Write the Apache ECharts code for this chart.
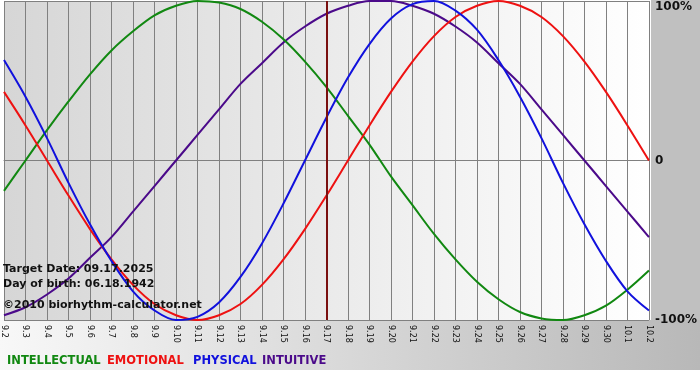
<!DOCTYPE html>
<html>
<head>
<meta charset="utf-8">
<script src="https://cdn.jsdelivr.net/npm/echarts@6/dist/echarts.min.js"></script>
<style>
html,body{margin:0;padding:0;background:#fff;}
#c{width:700px;height:380px;}
</style>
</head>
<body>
<div id="c"></div>
<script>
var categories = ['9.2','9.3','9.4','9.5','9.6','9.7','9.8','9.9','9.10','9.11','9.12','9.13','9.14','9.15','9.16','9.17','9.18','9.19','9.20','9.21','9.22','9.23','9.24','9.25','9.26','9.27','9.28','9.29','9.30','10.1','10.2'];
var intellectual = [-19,0,19,37,54,69,81,91,97,100,99,95,87,76,62,46,28,10,-10,-28,-46,-62,-76,-87,-95,-99,-100,-97,-91,-81,-69];
var emotional = [43,22,0,-22,-43,-62,-78,-90,-97,-100,-97,-90,-78,-62,-43,-22,0,22,43,62,78,90,97,100,97,90,78,62,43,22,0];
var physical = [63,40,14,-14,-40,-63,-82,-94,-100,-98,-89,-73,-52,-27,0,27,52,73,89,98,100,94,82,63,40,14,-14,-40,-63,-82,-94];
var intuitive = [-97,-92,-84,-74,-61,-48,-32,-16,0,16,32,48,61,74,84,92,97,100,100,97,92,84,74,61,48,32,16,0,-16,-32,-48];
var yTicks = [-100, 0, 100];
var targetDay = '9.17';
var infoLines = ['Target Date: 09.17.2025', 'Day of birth: 06.18.1942', '\u00a92010 biorhythm-calculator.net'];
var legendNames = ['INTELLECTUAL', 'EMOTIONAL', 'PHYSICAL', 'INTUITIVE'];
var colors = ['#118811', '#ee1111', '#1111dd', '#4b0a8a'];

var chart = echarts.init(document.getElementById('c'), null, {renderer: 'canvas'});
var FONT = 'DejaVu Sans';
var BOLD11 = 'bold 11px "' + FONT + '"';
function mk(name, data, color, extra) {
  var s = {
    name: name, type: 'line', data: data, smooth: 0.33, showSymbol: false,
    lineStyle: {color: color, width: 2}, itemStyle: {color: color}, z: 3,
    clip: true
  };
  if (extra) Object.assign(s, extra);
  return s;
}
var legendX = [7, 107, 193, 262];
var graphics = [
  {type: 'rect', z: -10, shape: {x: 0, y: 320, width: 700, height: 50},
   style: {fill: new echarts.graphic.LinearGradient(0, 0, 1, 0, [{offset: 0, color: '#f8f8f8'}, {offset: 1, color: '#b8b8b8'}])}, silent: true},
  {type: 'rect', z: -10, shape: {x: 651, y: 0, width: 49, height: 320},
   style: {fill: '#c0c0c0'}, silent: true},
  {type: 'text', left: 3, top: 264, z: 10, style: {text: infoLines[0], font: BOLD11, fill: '#111'}},
  {type: 'text', left: 3, top: 279, z: 10, style: {text: infoLines[1], font: BOLD11, fill: '#111'}},
  {type: 'text', left: 3, top: 300, z: 10, style: {text: infoLines[2], font: BOLD11, fill: '#111'}}
];
legendNames.forEach(function (n, i) {
  graphics.push({type: 'text', left: legendX[i], top: 355, z: 10,
    style: {text: n, font: 'bold 11.5px "' + FONT + '"', fill: colors[i]}});
});
var option = {
  animation: false,
  backgroundColor: '#ffffff',
  graphic: graphics,
  grid: {
    left: 1, right: 49, top: 1, bottom: 60, show: true, borderWidth: 0,
    backgroundColor: new echarts.graphic.LinearGradient(0, 0, 1, 0, [{offset: 0, color: '#d6d6d6'}, {offset: 1, color: '#ffffff'}])
  },
  xAxis: {
    type: 'category', data: categories, boundaryGap: false,
    axisLine: {show: true, lineStyle: {color: '#808080', width: 1}},
    axisTick: {show: true, length: 4, lineStyle: {color: '#808080'}, alignWithLabel: true},
    splitLine: {show: true, lineStyle: {color: '#808080', width: 1}},
    axisLabel: {interval: 0, rotate: -90, fontSize: 8, fontFamily: FONT, color: '#111', margin: 5}
  },
  yAxis: {
    type: 'value', position: 'right', min: -100, max: 100, interval: 100,
    axisLine: {show: false}, axisTick: {show: false},
    splitLine: {show: true, lineStyle: {color: '#808080', width: 1}},
    axisLabel: {
      fontSize: 12, fontWeight: 'bold', fontFamily: FONT, color: '#111', margin: 6,
      verticalAlignMaxLabel: 'top',
      formatter: function (v) { return v === 0 ? '0' : v + '%'; }
    }
  },
  series: [
    mk(legendNames[3], intuitive, colors[3]),
    mk(legendNames[0], intellectual, colors[0]),
    mk(legendNames[1], emotional, colors[1]),
    mk(legendNames[2], physical, colors[2], {
      markLine: {silent: true, symbol: 'none', label: {show: false},
        lineStyle: {color: '#7a1010', width: 2, type: 'solid'},
        data: [{xAxis: targetDay}]}
    })
  ]
};
chart.setOption(option);
</script>
</body>
</html>
